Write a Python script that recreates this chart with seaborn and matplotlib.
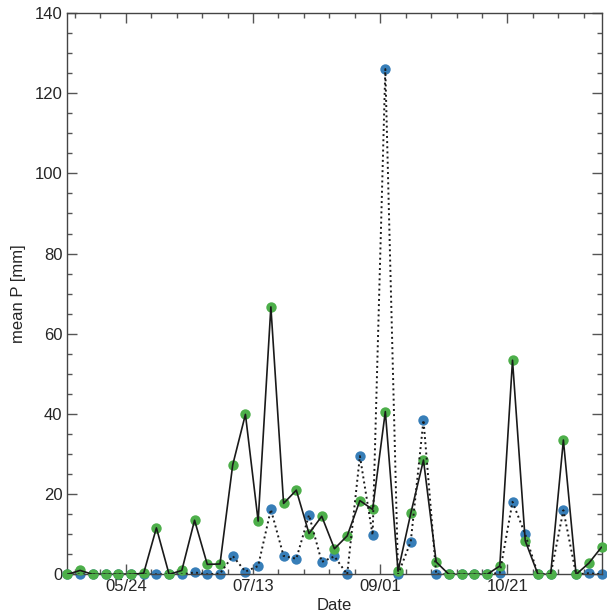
import pandas as pd
import seaborn as sns
import matplotlib.pyplot as plt
import matplotlib.dates as mdates
from matplotlib.ticker import MultipleLocator

# | Data |--------------------------------------------------------------------------------------------------------------|
start_date = "2019-05-01"
step = "5D"
green_p = [0, 1.0, 0, 0, 0, 0, 0.3, 11.6, 0, 1.0,
           13.5, 2.5, 2.6, 27.3, 39.9, 13.3, 66.7, 17.7, 21.0, 10.2,
           14.5, 6.4, 9.6, 18.4, 16.2, 40.6, 0.8, 15.2, 28.5, 3.1,
           0, 0, 0, 0, 2.1, 53.4, 8.4, 0, 0, 33.5,
           0, 2.8, 6.8]
blue_p = [0, 0, 0, 0, 0, 0, 0, 0, 0, 0,
          0.5, 0, 0.2, 4.6, 0.7, 2.1, 16.2, 4.6, 3.9, 14.8,
          3.1, 4.5, 0, 29.5, 9.8, 126.0, 0, 8.2, 38.5, 0,
          0, 0, 0, 0, 0.4, 18.1, 10.0, 0, 0, 16.0,
          0, 0.3, 0]
major_ticks = ["2019-05-24", "2019-07-13", "2019-09-01", "2019-10-21"]
tick_format = "%m/%d"

dates = pd.date_range(start_date, periods=len(green_p), freq=step)
df = pd.DataFrame({"date": dates, "green": green_p, "blue": blue_p})

# | Style |-------------------------------------------------------------------------------------------------------------|
sns.set_theme(style="ticks")
plt.rcParams["font.family"] = ["Liberation Sans", "DejaVu Sans"]

fig = plt.figure(figsize=(6.07, 6.15), dpi=100)
ax = fig.add_axes([0.111, 0.066, 0.880, 0.913])

green_c = "#4daf4a"
blue_c = "#377eb8"

sns.scatterplot(data=df, x="date", y="blue", color=blue_c, s=56, linewidth=0,
                ax=ax, clip_on=False, zorder=2)
sns.scatterplot(data=df, x="date", y="green", color=green_c, s=56, linewidth=0,
                ax=ax, clip_on=False, zorder=3)
sns.lineplot(data=df, x="date", y="blue", color="#1a1a1a", lw=1.4, ls=":", ax=ax, zorder=4)
sns.lineplot(data=df, x="date", y="green", color="#1a1a1a", lw=1.2, ax=ax, zorder=5)

ax.set_xlim(dates[0], dates[-1])
ax.set_ylim(0, 140)

ax.set_xticks(pd.to_datetime(major_ticks))
ax.xaxis.set_major_formatter(mdates.DateFormatter(tick_format))
minor = pd.date_range(pd.Timestamp(major_ticks[0]) - pd.Timedelta(days=20), dates[-1], freq="10D")
ax.set_xticks(minor, minor=True)
ax.yaxis.set_major_locator(MultipleLocator(20))
ax.yaxis.set_minor_locator(MultipleLocator(5))

ax.tick_params(which="both", direction="in", top=True, right=True, colors="#555555",
               labelcolor="#262626", labelsize=12)
ax.tick_params(which="major", length=7, width=1)
ax.tick_params(which="minor", length=3.5, width=1)
for sp in ax.spines.values():
    sp.set_color("#444444")
    sp.set_linewidth(1.0)

ax.set_xlabel("Date", fontsize=12, color="#262626", labelpad=3)
ax.set_ylabel("mean P [mm]", fontsize=12, color="#262626", labelpad=6)

fig.savefig("out.png", dpi=100)
